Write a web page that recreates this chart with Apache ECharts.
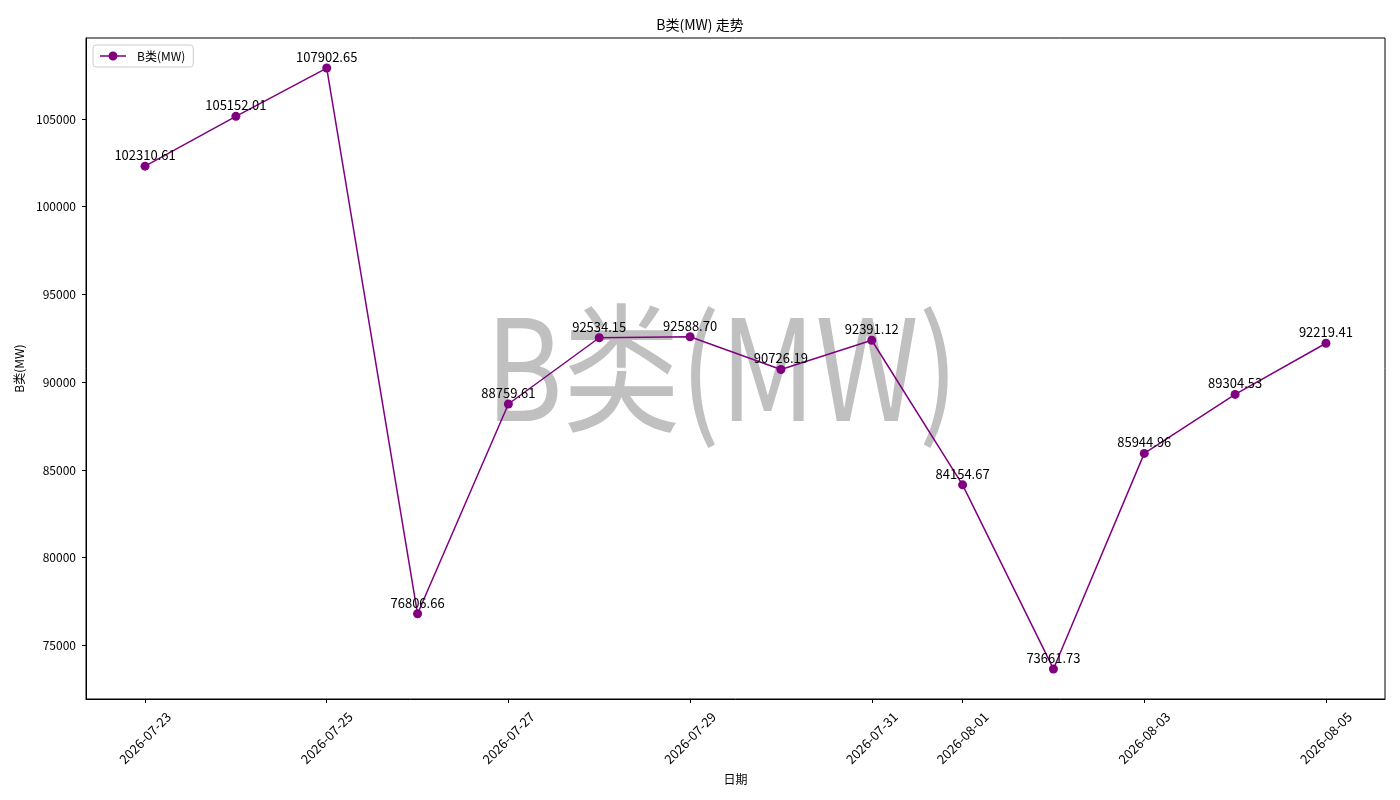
<!DOCTYPE html>
<html>
<head>
<meta charset="utf-8">
<script src="https://cdn.jsdelivr.net/npm/echarts@6/dist/echarts.min.js"></script>
<style>
  html, body { margin: 0; padding: 0; background: #fff; }
  #chart { width: 1400px; height: 800px; }
</style>
</head>
<body>
<div id="chart"></div>
<script>
// data
const dates = [
  '2026-07-23', '2026-07-24', '2026-07-25', '2026-07-26', '2026-07-27',
  '2026-07-28', '2026-07-29', '2026-07-30', '2026-07-31', '2026-08-01',
  '2026-08-02', '2026-08-03', '2026-08-04', '2026-08-05'
];
const values = [
  102310.61, 105152.01, 107902.65, 76806.66, 88759.61,
  92534.15, 92588.70, 90726.19, 92391.12, 84154.67,
  73661.73, 85944.96, 89304.53, 92219.41
];
const yTicks = [75000, 80000, 85000, 90000, 95000, 100000, 105000];
// date ticks fall on odd days of each month (07-23 ... 07-31, 08-01 ... 08-05)
const xTickIdx = [0, 2, 4, 6, 8, 9, 11, 13];

const seriesName = 'B类(MW)';
const FONT = '"Noto Sans CJK SC", "DejaVu Sans", sans-serif';

// matplotlib-like 5% margins
const lo = Math.min(...values), hi = Math.max(...values);
const pad = (hi - lo) * 0.05;
const xPad = (dates.length - 1) * 0.05;

const chart = echarts.init(document.getElementById('chart'));

chart.setOption({
  backgroundColor: '#fff',
  animation: false,
  textStyle: { fontFamily: FONT },
  title: {
    text: 'B类(MW) 走势',
    left: 'center',
    top: 13,
    textStyle: { fontSize: 14, fontWeight: 'normal', color: '#000', fontFamily: FONT }
  },
  legend: {
    left: 93, top: 45,
    padding: [5, 8, 5, 7],
    borderColor: '#ccc', borderWidth: 1, borderRadius: 3,
    itemWidth: 26, itemHeight: 9,
    textStyle: { fontSize: 12, color: '#000', fontFamily: FONT, padding: [0, 0, 0, 6] },
    data: [{
      name: seriesName,
      icon: 'path://M0,3.8 L26,3.8 L26,5.2 L0,5.2 Z M17.5,4.5 A4.5,4.5 0 1 1 8.5,4.5 A4.5,4.5 0 1 1 17.5,4.5 Z'
    }]
  },
  graphic: [{
    type: 'text',
    x: 722,
    y: 368,
    scaleX: 0.84,
    z: 0,
    style: {
      text: 'B类(MW)',
      fontSize: 140,
      fontFamily: FONT,
      fill: '#c0c0c0',
      textAlign: 'center',
      textVerticalAlign: 'middle'
    }
  }],
  grid: {
    left: 86, right: 15, top: 38, bottom: 101,
    show: true, borderColor: '#000', borderWidth: 1,
    containLabel: false
  },
  xAxis: {
    type: 'value',
    min: -xPad,
    max: dates.length - 1 + xPad,
    name: '日期',
    nameLocation: 'middle',
    nameGap: 74,
    nameTextStyle: { fontSize: 12, color: '#000', fontFamily: FONT },
    axisLine: { show: true, onZero: false, lineStyle: { color: '#000' } },
    axisTick: { show: true, length: 4, lineStyle: { color: '#000' }, customValues: xTickIdx },
    axisLabel: {
      rotate: 45, fontSize: 13, color: '#000', margin: 39, fontFamily: FONT,
      align: 'center', verticalAlign: 'middle',
      customValues: xTickIdx,
      formatter: v => dates[Math.round(v)]
    },
    splitLine: { show: false }
  },
  yAxis: {
    type: 'value',
    min: lo - pad,
    max: hi + pad,
    name: 'B类(MW)',
    nameLocation: 'middle',
    nameGap: 58,
    nameTextStyle: { fontSize: 12, color: '#000', fontFamily: FONT },
    axisLine: { show: true, onZero: false, lineStyle: { color: '#000' } },
    axisTick: { show: true, length: 4, lineStyle: { color: '#000' }, customValues: yTicks },
    axisLabel: {
      fontSize: 12, color: '#000', margin: 10, fontFamily: FONT,
      customValues: yTicks,
      formatter: v => String(v)
    },
    splitLine: { show: false }
  },
  series: [{
    name: seriesName,
    type: 'line',
    data: values.map((v, i) => [i, v]),
    color: '#800080',
    symbol: 'circle',
    symbolSize: 9,
    lineStyle: { width: 1.5, color: '#800080' },
    itemStyle: { color: '#800080' },
    z: 3,
    label: {
      show: true,
      position: 'top',
      distance: 0,
      fontSize: 13,
      color: '#000',
      fontFamily: FONT,
      formatter: p => p.value[1].toFixed(2)
    }
  }]
});
</script>
</body>
</html>
